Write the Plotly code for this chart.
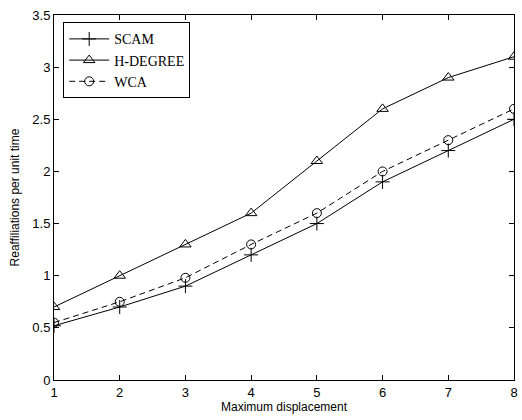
import plotly.graph_objects as go

x_vals = [1, 2, 3, 4, 5, 6, 7, 8]
scam = [0.52, 0.70, 0.90, 1.20, 1.50, 1.90, 2.20, 2.50]
hdegree = [0.70, 1.00, 1.30, 1.60, 2.10, 2.60, 2.90, 3.10]
wca = [0.55, 0.75, 0.98, 1.30, 1.60, 2.00, 2.30, 2.60]

fig = go.Figure()
fig.add_trace(go.Scatter(x=x_vals, y=scam, name="SCAM", mode="lines+markers",
                         line=dict(color="black", width=1),
                         marker=dict(symbol="cross-thin-open", size=10, color="black",
                                     line=dict(width=1, color="black"))))
fig.add_trace(go.Scatter(x=x_vals, y=hdegree, name="H-DEGREE", mode="lines+markers",
                         line=dict(color="black", width=1),
                         marker=dict(symbol="triangle-up-open", size=10, color="black",
                                     line=dict(width=1, color="black"))))
fig.add_trace(go.Scatter(x=x_vals, y=wca, name="WCA", mode="lines+markers",
                         line=dict(color="black", width=1, dash="6px,4px"),
                         marker=dict(symbol="circle-open", size=9, color="black",
                                     line=dict(width=1, color="black"))))

axis_common = dict(showgrid=False, zeroline=False, showline=True, linecolor="black",
                   linewidth=1, mirror="ticks", ticks="inside", ticklen=5,
                   tickcolor="black", tickfont=dict(family="Liberation Sans", size=13, color="black"))

fig.update_layout(
    width=522, height=420,
    margin=dict(l=54, r=4, t=15, b=40),
    paper_bgcolor="white", plot_bgcolor="white",
    showlegend=True,
    legend=dict(x=0.02, y=0.98, xanchor="left", yanchor="top",
                bordercolor="black", borderwidth=1, bgcolor="white",
                font=dict(family="Liberation Serif", size=14, color="black"),
                tracegroupgap=0, itemwidth=40),
    xaxis=dict(range=[1, 8], tickvals=x_vals, title=dict(text="Maximum displacement",
               font=dict(family="Liberation Sans", size=12, color="black"), standoff=4),
               **axis_common),
    yaxis=dict(range=[0, 3.5], tickvals=[0, 0.5, 1, 1.5, 2, 2.5, 3, 3.5],
               ticktext=["0", "0.5", "1", "1.5", "2", "2.5", "3", "3.5"],
               title=dict(text="Reaffiliations per unit time",
               font=dict(family="Liberation Sans", size=12, color="black"), standoff=10),
               **axis_common),
)

fig.write_html("out.html")
